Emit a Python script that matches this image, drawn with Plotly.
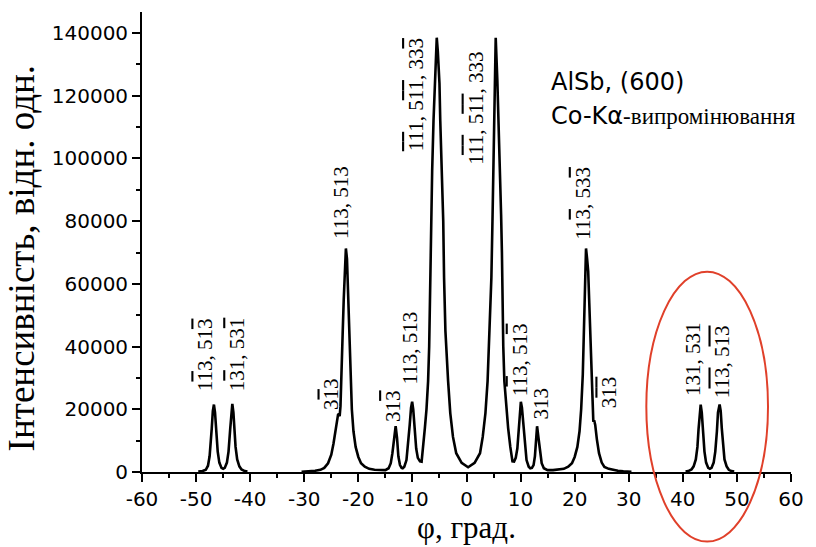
import plotly.graph_objects as go

# Phi-scan of AlSb (600), Co-Kalpha radiation: intensity profile in three measured segments
phi_left = [-49.6, -48.8, -48.2, -47.8, -47.5, -47.3, -47.1, -46.9, -46.7, -46.5, -46.3,
            -46.0, -45.7, -45.3, -45.0, -44.7, -44.3, -44.0, -43.7, -43.5, -43.3, -43.1,
            -42.9, -42.7, -42.4, -42.0, -41.6, -41.0, -40.5]
int_left = [150, 300, 700, 2000, 5000, 8500, 14000, 19500, 21500, 19000, 13000,
            6500, 3000, 1300, 1000, 1300, 3000, 6500, 13500, 19500, 21700, 19000,
            13500, 8000, 4000, 1800, 800, 300, 150]

phi_mid = [-30.5, -29.0, -28.0, -27.0, -26.3, -25.6, -25.0, -24.6, -24.2, -23.9, -23.75,
           -23.6, -23.45, -23.3, -23.1, -22.9, -22.7, -22.5, -22.3, -22.1, -21.9, -21.7,
           -21.5, -21.2, -20.9, -20.5, -20.0, -19.5, -18.8, -18.0, -17.0, -16.0, -15.0,
           -14.4, -14.0, -13.7, -13.4, -13.1, -12.85, -12.6, -12.3, -12.0, -11.8, -11.5,
           -11.1, -10.8, -10.5, -10.25, -10.05, -9.85, -9.6, -9.3, -9.0, -8.6, -8.3,
           -8.0, -7.7, -7.4, -7.1, -6.9, -6.75, -6.65, -6.55, -6.35, -6.1, -5.8, -5.5,
           -5.3, -5.0, -4.85, -4.55, -4.3, -4.15, -3.9, -3.4, -3.0, -2.5, -1.9, -0.9,
           0.3,
           1.5, 2.5, 3.0, 3.5, 3.9, 4.3, 4.6, 4.8, 5.0, 5.15, 5.25, 5.4, 5.7, 5.95,
           6.2, 6.4, 6.55, 6.65, 6.8, 7.0, 7.35, 7.7, 8.1, 8.5, 8.8, 9.1, 9.4, 9.65,
           9.9, 10.05, 10.25, 10.5, 10.8, 11.1, 11.5, 11.8, 12.1, 12.4, 12.65, 12.85,
           13.05, 13.3, 13.6, 13.9, 14.3, 15.0, 16.0, 17.0, 18.0, 18.8, 19.5, 20.0,
           20.5, 20.9, 21.2, 21.5, 21.7, 21.9, 22.1, 22.3, 22.5, 22.7, 22.9, 23.1,
           23.3, 23.45, 23.6, 23.8, 24.1, 24.5, 25.0, 25.5, 26.3, 27.0, 28.0, 29.0, 30.5]
int_mid = [100, 200, 400, 700, 1300, 2800, 5500, 9000, 14000, 17500, 18300,
           18500, 17800, 21000, 30000, 44000, 55000, 65000, 71300, 68000, 56000, 43000,
           31000, 20000, 13000, 8000, 4800, 2800, 1700, 1000, 700, 600, 600,
           1200, 2800, 6000, 11000, 14600, 11000, 5000, 2200, 1300, 1200, 1700,
           3800, 8500, 15000, 20500, 22400, 20000, 13500, 7500, 4500, 3400, 3300,
           8000, 14000, 20000, 29000, 40000, 55000, 70000, 82000, 96000, 112000, 125000, 138500,
           134000, 124000, 112000, 96000, 80000, 62000, 45000, 29000, 18800, 11200, 6000, 2900,
           1500,
           2900, 6000, 11200, 18800, 29000, 45000, 62000, 80000, 96000, 112000, 125000, 138500, 125000, 112000,
           96000, 82000, 70000, 55000, 40000, 29000, 20000, 14000, 8000, 3400, 3300, 4500, 7500, 13500,
           20000, 22400, 20500, 15000, 8500, 3800, 1700, 1200, 1300, 2200, 5000, 11000,
           14600, 11000, 6000, 2800, 1200, 600, 600, 700, 1000, 1700, 2800, 4800,
           8000, 13000, 20000, 31000, 43000, 56000, 71300, 68000, 64000, 54000, 42000, 29000,
           19000, 16000, 16500, 15000, 10500, 6000, 3000, 1600, 1000, 700, 400, 200, 100]

phi_right = [40.5, 41.0, 41.6, 42.0, 42.4, 42.7, 42.9, 43.1, 43.3, 43.5, 43.7,
             44.0, 44.3, 44.7, 45.0, 45.3, 45.7, 46.0, 46.3, 46.5, 46.8, 47.0,
             47.2, 47.4, 47.7, 48.1, 48.5, 49.0, 49.5]
int_right = [150, 300, 800, 1800, 4000, 8000, 13500, 19000, 21500, 19000, 13500,
             6500, 3000, 1300, 1000, 1300, 3000, 6500, 13000, 19000, 21500, 19500,
             14000, 8500, 4000, 1800, 700, 300, 150]

# Reflection indices (combining overline U+0305 marks negative indices) and label anchors
B = "\u0305"
peak_labels = [
    "11" + B + "3, 513" + B,
    "13" + B + "1, 531" + B,
    "31" + B + "3",
    "313" + B,
    "113, 513",
    "113, 513",
    "1" + B + "1" + B + "1, 51" + B + "1" + B + ", 333" + B,
    "11" + B + "1" + B + ", 51" + B + "1" + B + ", 333",
    "11" + B + "3, 513" + B,
    "313",
    "113" + B + ", 533" + B,
    "31" + B + "3" + B,
    "131, 531",
    "11" + B + "3" + B + ", 51" + B + "3" + B,
]
label_phi = [-48.2, -42.4, -25.0, -13.5, -10.4, -23.2, -9.4, 1.7, 9.8, 13.7, 21.5, 26.4, 42.0, 47.4]
label_int = [25200, 25200, 19200, 15500, 27200, 73500, 101700, 97400, 23500, 16000, 73500, 19800, 23500, 23000]

x_ticks = list(range(-60, 61, 10))
y_ticks = list(range(0, 140001, 20000))
x_range = [-60, 60]
y_range = [0, 146700]

# highlighted pair of reflections near phi = 45
ring_phi = [33.25, 55.75]
ring_int = [-22200, 63900]


def with_bars(s):
    """Turn 'digit + U+0305' pairs into overlined spans for SVG text."""
    out = []
    i = 0
    while i < len(s):
        ch = s[i]
        if i + 1 < len(s) and s[i + 1] == B:
            out.append("<span style='text-decoration:overline'>" + ch + "</span>")
            i += 2
        else:
            out.append(ch)
            i += 1
    return "".join(out)


fig = go.Figure()
phi_all = phi_left + [None] + phi_mid + [None] + phi_right
int_all = int_left + [None] + int_mid + [None] + int_right
fig.add_trace(go.Scatter(x=phi_all, y=int_all, mode="lines",
                         line=dict(color="black", width=2.6), connectgaps=False,
                         hoverinfo="skip"))

serif = "Liberation Serif, Times New Roman, serif"
sans = "DejaVu Sans, Arial, sans-serif"

for txt, px, py in zip(peak_labels, label_phi, label_int):
    fig.add_annotation(x=px, y=py, text=with_bars(txt), showarrow=False, textangle=-90,
                       xanchor="center", yanchor="bottom",
                       font=dict(family=serif, size=21, color="black"))


def xp(v):
    return (v - x_range[0]) / (x_range[1] - x_range[0])


def yp(v):
    return (v - y_range[0]) / (y_range[1] - y_range[0])


fig.add_shape(type="circle", xref="paper", yref="paper",
              x0=xp(ring_phi[0]), x1=xp(ring_phi[1]),
              y0=yp(ring_int[0]), y1=yp(ring_int[1]),
              line=dict(color="#e0402a", width=2))

fig.add_annotation(xref="paper", yref="paper", x=xp(15.2), y=yp(124400),
                   text="AlSb, (600)", showarrow=False, xanchor="left", yanchor="middle",
                   font=dict(family=sans, size=24, color="black"))
fig.add_annotation(xref="paper", yref="paper", x=xp(15.2), y=yp(113500),
                   text="Co-K\u03b1<span style='font-family:Liberation Serif; font-size:23px'>-випромінювання</span>",
                   showarrow=False, xanchor="left", yanchor="middle",
                   font=dict(family=sans, size=24, color="black"))

# axis titles
fig.add_annotation(xref="paper", yref="paper", x=-0.186, y=0.465,
                   text="Інтенсивність, відн. одн.", showarrow=False, textangle=-90,
                   xanchor="center", yanchor="middle",
                   font=dict(family=serif, size=37, color="black"))
fig.add_annotation(xref="paper", yref="paper", x=xp(0), y=-0.12,
                   text="φ, град.", showarrow=False, xanchor="center", yanchor="middle",
                   font=dict(family=serif, size=31, color="black"))

axis_common = dict(showline=True, linecolor="black", linewidth=1.8, mirror=False,
                   ticks="outside", ticklen=8, tickwidth=1.6, tickcolor="black",
                   showgrid=False, zeroline=False,
                   tickfont=dict(family=sans, size=20, color="black"))

fig.update_xaxes(range=x_range, tickvals=x_ticks, ticktext=[str(v) for v in x_ticks],
                 minor=dict(dtick=5, ticks="outside", ticklen=4, tickwidth=1.6, tickcolor="black"),
                 **axis_common)
fig.update_yaxes(range=y_range, tickvals=y_ticks, ticktext=[str(v) for v in y_ticks],
                 minor=dict(dtick=10000, ticks="outside", ticklen=4, tickwidth=1.6, tickcolor="black"),
                 **axis_common)

fig.update_layout(width=816, height=547, margin=dict(l=142, r=17, t=12, b=75),
                  paper_bgcolor="white", plot_bgcolor="white", showlegend=False)

fig.write_html("out.html")
